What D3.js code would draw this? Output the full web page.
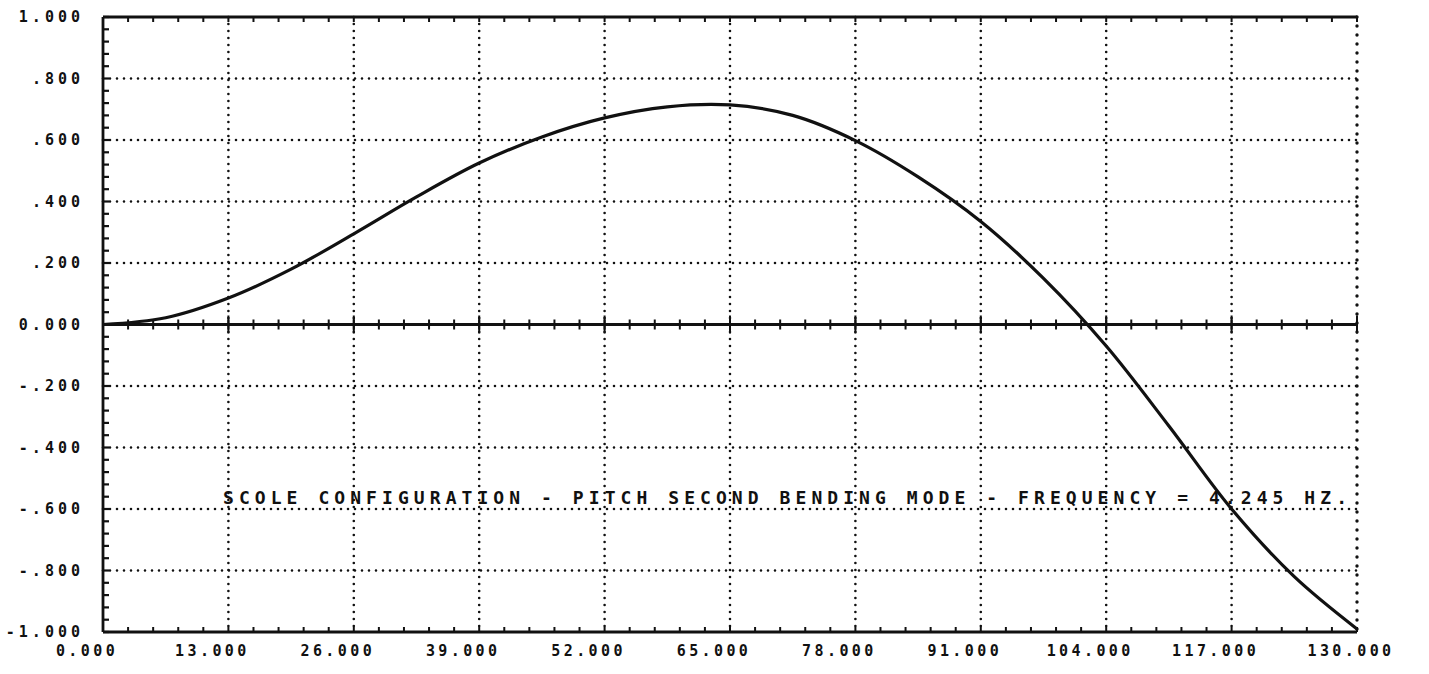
<!DOCTYPE html>
<html>
<head>
<meta charset="utf-8">
<script src="https://cdn.jsdelivr.net/npm/d3@7"></script>
<style>
    body { margin: 0; background: #fff; }
    text { font-family: "DejaVu Sans Mono", monospace; font-weight: bold; fill: #111; }
</style>
</head>
<body>
<svg id="chart" width="1429" height="674"></svg>
<script>
// station along the vehicle and mode shape value
const stations = [0, 6.5, 13, 19.5, 26, 32.5, 39, 45.5, 52, 58.5, 65, 71.5, 78, 84.5, 91, 97.5, 104, 110.5, 117, 123.5, 130];
const modeShape = [0, 0.022, 0.086, 0.18, 0.295, 0.415, 0.525, 0.61, 0.672, 0.708, 0.714, 0.68, 0.598, 0.48, 0.335, 0.15, -0.07, -0.33, -0.6, -0.82, -0.99];

const xTicks = [0, 13, 26, 39, 52, 65, 78, 91, 104, 117, 130];
const xTickLabels = ["0.000", "13.000", "26.000", "39.000", "52.000", "65.000", "78.000", "91.000", "104.000", "117.000", "130.000"];
const yTicks = [1, 0.8, 0.6, 0.4, 0.2, 0, -0.2, -0.4, -0.6, -0.8, -1];
const yTickLabels = ["1.000", ".800", ".600", ".400", ".200", "0.000", "-.200", "-.400", "-.600", "-.800", "-1.000"];

const caption = "SCOLE CONFIGURATION - PITCH SECOND BENDING MODE - FREQUENCY = 4.245 HZ.";

const svg = d3.select("#chart");

const x = d3.scaleLinear().domain([0, 130]).range([103, 1357]);
const y = d3.scaleLinear().domain([-1, 1]).range([632, 17]);

const dots = "0,7";

// dotted grid
svg.append("g")
    .selectAll("line")
    .data(yTicks.filter(d => d !== 0 && Math.abs(d) !== 1))
    .enter()
    .append("line")
    .attr("x1", x(0))
    .attr("x2", x(130))
    .attr("y1", d => y(d))
    .attr("y2", d => y(d))
    .style("stroke", "#111")
    .style("stroke-width", 2.6)
    .style("stroke-linecap", "round")
    .style("stroke-dasharray", dots);

svg.append("g")
    .selectAll("line")
    .data(xTicks.filter(d => d > 0 && d < 130))
    .enter()
    .append("line")
    .attr("x1", d => x(d))
    .attr("x2", d => x(d))
    .attr("y1", y(1))
    .attr("y2", y(-1))
    .style("stroke", "#111")
    .style("stroke-width", 2.6)
    .style("stroke-linecap", "round")
    .style("stroke-dasharray", dots);

// right border is dotted too, a bit heavier
svg.append("line")
    .attr("x1", x(130)).attr("x2", x(130))
    .attr("y1", y(1)).attr("y2", y(-1))
    .style("stroke", "#111")
    .style("stroke-width", 3.4)
    .style("stroke-linecap", "round")
    .style("stroke-dasharray", "0,9");

// solid frame: left, top, bottom, zero line
const solid = [
    [x(0), y(1), x(0), y(-1)],
    [x(0), y(1), x(130), y(1)],
    [x(0), y(-1), x(130), y(-1)],
    [x(0), y(0), x(130), y(0)]
];
svg.append("g")
    .selectAll("line")
    .data(solid)
    .enter()
    .append("line")
    .attr("x1", d => d[0]).attr("y1", d => d[1])
    .attr("x2", d => d[2]).attr("y2", d => d[3])
    .style("stroke", "#111")
    .style("stroke-width", 2.8);

// minor ticks
const xMinor = d3.range(0, 130.01, 2.6);
const yMinor = d3.range(-1, 1.001, 0.04);

svg.append("g")
    .selectAll("line")
    .data(yMinor)
    .enter()
    .append("line")
    .attr("x1", x(0))
    .attr("x2", x(0) + 6)
    .attr("y1", d => y(d))
    .attr("y2", d => y(d))
    .style("stroke", "#111")
    .style("stroke-width", 2.2);

[[y(-1), -5], [y(1), 5], [y(0), -5], [y(0), 5]].forEach(function (p) {
    svg.append("g")
        .selectAll("line")
        .data(xMinor)
        .enter()
        .append("line")
        .attr("x1", d => x(d))
        .attr("x2", d => x(d))
        .attr("y1", p[0])
        .attr("y2", p[0] + p[1])
        .style("stroke", "#111")
        .style("stroke-width", 2);
});

// major ticks cross the zero line
svg.append("g")
    .selectAll("line")
    .data(xTicks)
    .enter()
    .append("line")
    .attr("x1", d => x(d))
    .attr("x2", d => x(d))
    .attr("y1", y(0) - 9)
    .attr("y2", y(0) + 9)
    .style("stroke", "#111")
    .style("stroke-width", 2);

// the mode shape
const line = d3.line()
    .x((d, i) => x(stations[i]))
    .y(d => y(d))
    .curve(d3.curveCatmullRom);

svg.append("path")
    .datum(modeShape)
    .attr("d", line)
    .style("fill", "none")
    .style("stroke", "#111")
    .style("stroke-width", 3.2);

// tick labels
svg.append("g")
    .selectAll("text")
    .data(yTicks)
    .enter()
    .append("text")
    .attr("x", x(0) - 19)
    .attr("y", d => y(d) + 5)
    .attr("text-anchor", "end")
    .style("font-size", "15px")
    .style("letter-spacing", "4px")
    .text((d, i) => yTickLabels[i]);

svg.append("g")
    .selectAll("text")
    .data(xTicks)
    .enter()
    .append("text")
    .attr("x", d => x(d) - (d === 130 ? 6 : 16))
    .attr("y", 656)
    .attr("text-anchor", "middle")
    .style("font-size", "15px")
    .style("letter-spacing", "3.4px")
    .text((d, i) => xTickLabels[i]);

svg.append("text")
    .attr("x", 223)
    .attr("y", 504)
    .attr("textLength", 1124)
    .attr("lengthAdjust", "spacing")
    .style("font-size", "18px")
    .text(caption);
</script>
</body>
</html>
